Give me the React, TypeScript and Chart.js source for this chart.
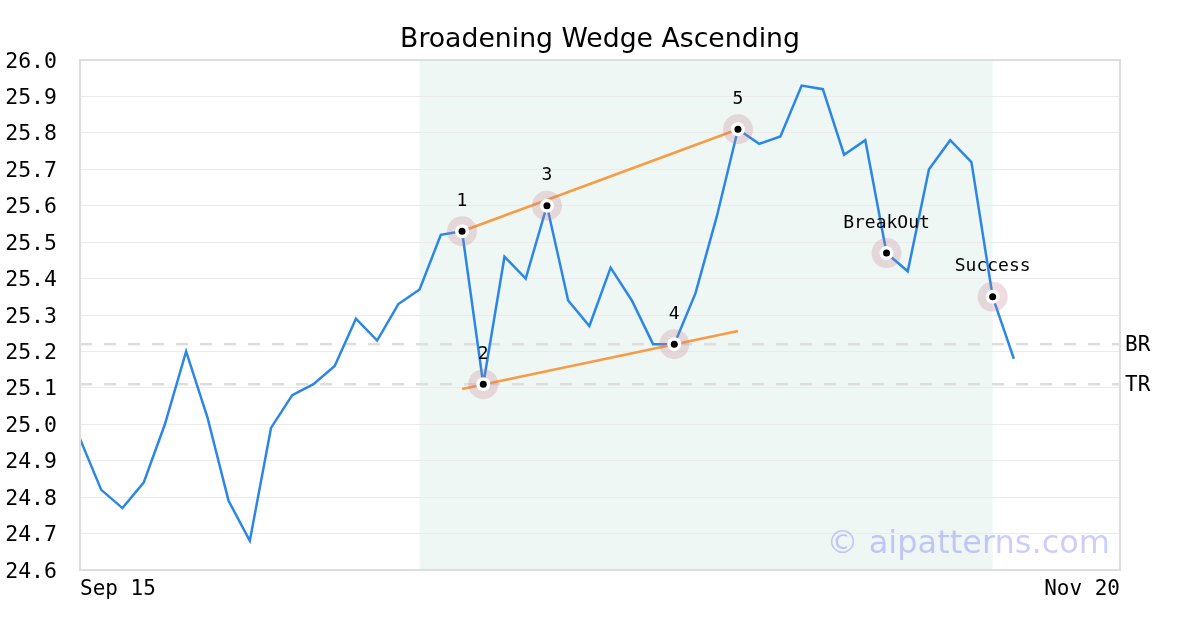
import React, { useEffect, useRef } from "react";
import { Chart, registerables } from "chart.js";

Chart.register(...registerables);

const title = "Broadening Wedge Ascending";
const xTickLabels = ["Sep 15", "Nov 20"];
const xMin = 0;
const xMax = 49;
const yMin = 24.6;
const yMax = 26.0;

const prices = [
  24.96, 24.82, 24.77, 24.84, 25.0, 25.2, 25.02, 24.79, 24.68, 24.99,
  25.08, 25.11, 25.16, 25.29, 25.23, 25.33, 25.37, 25.52, 25.53, 25.11,
  25.46, 25.4, 25.6, 25.34, 25.27, 25.43, 25.34, 25.22, 25.22, 25.36,
  25.57, 25.81, 25.77, 25.79, 25.93, 25.92, 25.74, 25.78, 25.47, 25.42,
  25.7, 25.78, 25.72, 25.35, 25.18,
];

const markerIdx = [18, 19, 22, 28, 31, 38, 43];
const markerLabels = ["1", "2", "3", "4", "5", "BreakOut", "Success"];

const upperLineX = [18, 31];
const upperLineY = [25.53, 25.81];
const lowerLineX = [18, 31];
const lowerLineY = [25.097, 25.256];

const patternStart = 16;
const patternEnd = 43;

const levelNames = ["BR", "TR"];
const levelValues = [25.22, 25.11];

const watermark = "© aipatterns.com";

const MONO = "'DejaVu Sans Mono', monospace";
const SANS = "'DejaVu Sans', sans-serif";

export default function App() {
  const ref = useRef<HTMLCanvasElement | null>(null);

  useEffect(() => {
    const canvas = ref.current;
    if (!canvas) return;

    const priceData = prices.map((v, i) => ({ x: i, y: v }));
    const markerData = markerIdx.map((i) => ({ x: i, y: prices[i] }));

    const bgPlugin = {
      id: "bgPlugin",
      beforeDraw(chart: any) {
        const { ctx, chartArea, scales } = chart;
        const x0 = scales.x.getPixelForValue(patternStart);
        const x1 = scales.x.getPixelForValue(patternEnd);
        ctx.save();
        ctx.fillStyle = "#eff7f4";
        ctx.fillRect(x0, chartArea.top, x1 - x0, chartArea.bottom - chartArea.top);
        ctx.restore();
      },
      afterDatasetsDraw(chart: any) {
        const { ctx, chartArea, scales } = chart;
        ctx.save();
        ctx.fillStyle = "#000";
        ctx.font = `18px ${MONO}`;
        ctx.textAlign = "center";
        ctx.textBaseline = "middle";
        markerIdx.forEach((i, k) => {
          const px = scales.x.getPixelForValue(i);
          const py = scales.y.getPixelForValue(prices[i]);
          ctx.fillText(markerLabels[k], px, py - 30);
        });
        ctx.font = `21px ${MONO}`;
        ctx.textAlign = "left";
        levelNames.forEach((n, k) => {
          const py = scales.y.getPixelForValue(levelValues[k]);
          ctx.fillText(n, chartArea.right + 5, py + 1);
        });
        ctx.font = `32px ${SANS}`;
        ctx.textAlign = "right";
        ctx.fillStyle = "rgba(0,0,255,0.2)";
        ctx.fillText(watermark, chartArea.right - 10, chartArea.bottom - 25);
        ctx.strokeStyle = "#dddddd";
        ctx.lineWidth = 2;
        ctx.strokeRect(chartArea.left, chartArea.top, chartArea.right - chartArea.left, chartArea.bottom - chartArea.top);
        ctx.restore();
      },
    };

    const chart = new Chart(canvas, {
      type: "line",
      data: {
        datasets: [
          {
            type: "scatter",
            data: markerData,
            pointRadius: 3.5,
            pointBackgroundColor: "#000",
            pointBorderWidth: 0,
            order: 0,
          } as any,
          {
            type: "scatter",
            data: markerData,
            pointRadius: 7,
            pointBackgroundColor: "#ffffff",
            pointBorderWidth: 0,
            order: 1,
          },
          {
            type: "scatter",
            data: markerData,
            pointRadius: 15,
            pointBackgroundColor: "rgba(190,120,140,0.25)",
            pointBorderWidth: 0,
            order: 2,
          },
          {
            data: upperLineX.map((x, k) => ({ x, y: upperLineY[k] })),
            borderColor: "#f79b45",
            borderWidth: 2.5,
            pointRadius: 0,
            order: 3,
          },
          {
            data: lowerLineX.map((x, k) => ({ x, y: lowerLineY[k] })),
            borderColor: "#f79b45",
            borderWidth: 2.5,
            pointRadius: 0,
            order: 3,
          },
          {
            data: priceData,
            borderColor: "#2b86e6",
            borderWidth: 2.5,
            pointRadius: 0,
            tension: 0,
            order: 4,
          },
          ...levelValues.map((v) => ({
            data: [
              { x: xMin, y: v },
              { x: xMax, y: v },
            ],
            borderColor: "#dddddd",
            borderWidth: 2.5,
            borderDash: [12, 12],
            pointRadius: 0,
            order: 5,
          })),
        ],
      },
      options: {
        animation: false,
        responsive: false,
        events: [],
        layout: { padding: 0 },
        plugins: {
          legend: { display: false },
          tooltip: { enabled: false },
          title: {
            display: true,
            text: title,
            color: "#000",
            font: { family: SANS, size: 26.7, weight: "normal" },
            padding: { top: 24.4, bottom: 3.6 },
          },
        },
        scales: {
          x: {
            type: "linear",
            min: xMin,
            max: xMax,
            afterBuildTicks: (scale: any) => {
              scale.ticks = [{ value: xMin }, { value: xMax }];
            },
            afterFit: (scale: any) => {
              scale.height = 60;
            },
            grid: { display: false, drawTicks: false },
            border: { display: false },
            ticks: {
              align: "inner",
              padding: 7,
              color: "#000",
              maxRotation: 0,
              autoSkip: false,
              font: { family: MONO, size: 21 },
              callback: (v: any) => (v === xMin ? xTickLabels[0] : xTickLabels[1]),
            },
          },
          y: {
            type: "linear",
            min: yMin,
            max: yMax,
            afterFit: (scale: any) => {
              scale.width = 80;
            },
            grid: { color: "#ebebeb", lineWidth: 1, drawTicks: false },
            border: { display: false },
            ticks: {
              stepSize: 0.1,
              padding: 23,
              labelOffset: 2,
              color: "#000",
              font: { family: MONO, size: 21.5 },
              callback: (v: any) => Number(v).toFixed(1),
            },
          },
          yRight: {
            type: "linear",
            position: "right",
            min: yMin,
            max: yMax,
            afterFit: (scale: any) => {
              scale.width = 80;
            },
            grid: { display: false, drawTicks: false },
            border: { display: false },
            ticks: { display: false },
          },
        },
      } as any,
      plugins: [bgPlugin],
    });

    return () => chart.destroy();
  }, []);

  return (
    <div style={{ position: "absolute", left: 0, top: 0, width: 1200, height: 630, background: "#fff" }}>
      <canvas ref={ref} width={1200} height={630} style={{ display: "block", width: 1200, height: 630 }} />
    </div>
  );
}
